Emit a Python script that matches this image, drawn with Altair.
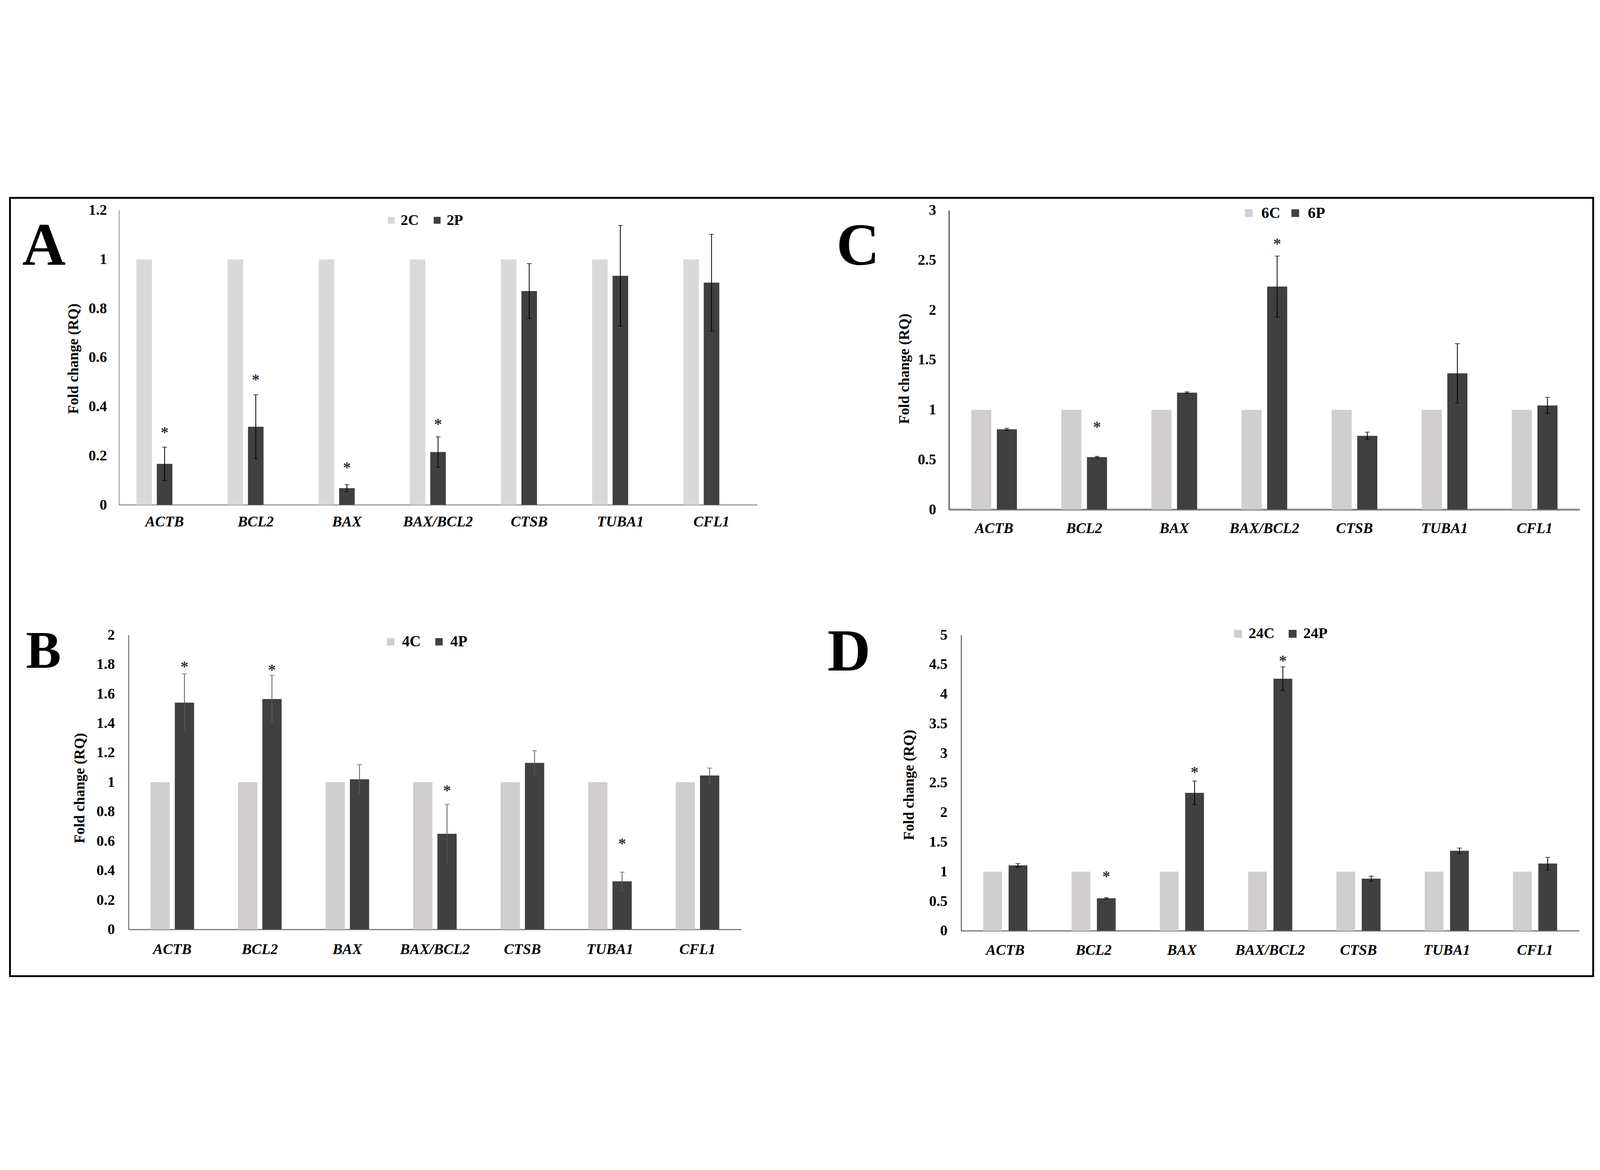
import altair as alt
import pandas as pd

genes = ["ACTB", "BCL2", "BAX", "BAX/BCL2", "CTSB", "TUBA1", "CFL1"]

# Panel A
a_series = ["2C", "2P"]
a_control = [1, 1, 1, 1, 1, 1, 1]
a_treated = [0.167, 0.318, 0.068, 0.215, 0.871, 0.933, 0.905]
a_error = [0.068, 0.130, 0.014, 0.062, 0.112, 0.205, 0.197]
a_star_genes = ["ACTB", "BCL2", "BAX", "BAX/BCL2"]
a_star_y = [0.305, 0.52, 0.161, 0.339]
a_ticks = [0, 0.2, 0.4, 0.6, 0.8, 1, 1.2]

# Panel C
c_series = ["6C", "6P"]
c_control = [1, 1, 1, 1, 1, 1, 1]
c_treated = [0.805, 0.526, 1.172, 2.236, 0.739, 1.366, 1.044]
c_error = [0.010, 0.007, 0.008, 0.305, 0.037, 0.297, 0.080]
c_star_genes = ["BCL2", "BAX/BCL2"]
c_star_y = [0.852, 2.69]
c_ticks = [0, 0.5, 1, 1.5, 2, 2.5, 3]

# Panel B
b_series = ["4C", "4P"]
b_control = [1, 1, 1, 1, 1, 1, 1]
b_treated = [1.540, 1.565, 1.020, 0.650, 1.131, 0.327, 1.046]
b_error = [0.195, 0.161, 0.099, 0.200, 0.083, 0.062, 0.050]
b_star_genes = ["ACTB", "BCL2", "BAX/BCL2", "TUBA1"]
b_star_y = [1.80, 1.78, 0.96, 0.60]
b_ticks = [0, 0.2, 0.4, 0.6, 0.8, 1, 1.2, 1.4, 1.6, 1.8, 2]

# Panel D
d_series = ["24C", "24P"]
d_control = [1, 1, 1, 1, 1, 1, 1]
d_treated = [1.106, 0.549, 2.332, 4.260, 0.881, 1.353, 1.136]
d_error = [0.030, 0.013, 0.200, 0.200, 0.043, 0.045, 0.105]
d_star_genes = ["BCL2", "BAX", "BAX/BCL2"]
d_star_y = [0.957, 2.72, 4.60]
d_ticks = [0, 0.5, 1, 1.5, 2, 2.5, 3, 3.5, 4, 4.5, 5]

SERIF = "Liberation Serif"
DARK = "#404040"
one_row = pd.DataFrame({"k": [0]})


def make_panel(letter, series, control, treated, error, star_genes, star_y, ticks,
               ctrl_color, plot_w, height, shift, x_pi, xo_domain, xo_pi,
               leg_x, leg_y, sym, leg_font, leg_off, leg_gap,
               title_x, title_y, let_x, let_y, let_size, xlab_pad, ylab_pad,
               y_dom_w, y_dom_c, x_dom_w, err_color, border=None):
    df = pd.DataFrame({
        "gene": genes * 2,
        "series": [series[0]] * len(genes) + [series[1]] * len(genes),
        "value": control + treated,
    })
    dfp = pd.DataFrame({
        "gene": genes,
        "series": [series[1]] * len(genes),
        "lo": [v - e for v, e in zip(treated, error)],
        "hi": [v + e for v, e in zip(treated, error)],
    })
    dfs = pd.DataFrame({
        "gene": star_genes,
        "series": [series[1]] * len(star_genes),
        "sy": star_y,
    })

    x = alt.X("gene:N", sort=genes,
              scale=alt.Scale(paddingInner=x_pi, paddingOuter=x_pi / 2,
                              range=[shift, shift + plot_w]),
              axis=alt.Axis(title=None, labelAngle=0, labelFont=SERIF, labelFontSize=56,
                            labelFontWeight="bold", labelFontStyle="italic", labelColor="black",
                            labelPadding=xlab_pad, labelLimit=2000, ticks=False, tickSize=0,
                            domainColor="#858585", domainWidth=x_dom_w, grid=False))
    xo = alt.XOffset("series:N", scale=alt.Scale(domain=xo_domain, paddingInner=xo_pi, paddingOuter=0))
    ysc = alt.Scale(domain=[0, ticks[-1]], nice=False)
    yax = alt.Axis(values=ticks, format="~g", labelFont=SERIF, labelFontSize=56,
                   labelFontWeight="bold", labelColor="black", labelPadding=ylab_pad,
                   ticks=False, tickSize=0, grid=False, domainColor=y_dom_c,
                   domainWidth=y_dom_w, offset=-shift, title="Fold change (RQ)", titleFont=SERIF,
                   titleFontSize=55, titleFontWeight="bold", titleColor="black",
                   titleAngle=270, titleX=title_x, titleY=title_y,
                   titleAlign="center", titleBaseline="middle")

    bars = alt.Chart(df).mark_bar().encode(
        x=x, xOffset=xo,
        y=alt.Y("value:Q", scale=ysc, axis=yax),
        color=alt.Color("series:N",
                        scale=alt.Scale(domain=series, range=[ctrl_color, DARK]),
                        legend=alt.Legend(title=None, orient="none", legendX=leg_x, legendY=leg_y,
                                          direction="horizontal", symbolType="square",
                                          symbolSize=sym * sym, symbolStrokeWidth=0,
                                          labelFont=SERIF, labelFontSize=leg_font,
                                          labelFontWeight="bold", labelColor="black",
                                          labelOffset=leg_off, columnPadding=leg_gap,
                                          padding=0, rowPadding=0)),
    )
    rules = alt.Chart(dfp).mark_rule(color=err_color, strokeWidth=3).encode(
        x=x, xOffset=xo, y=alt.Y("lo:Q", scale=ysc, axis=yax), y2="hi:Q")
    cap_hi = alt.Chart(dfp).mark_tick(color=err_color, thickness=3, size=18).encode(
        x=x, xOffset=xo, y=alt.Y("hi:Q", scale=ysc, axis=yax))
    cap_lo = alt.Chart(dfp).mark_tick(color=err_color, thickness=3, size=18).encode(
        x=x, xOffset=xo, y=alt.Y("lo:Q", scale=ysc, axis=yax))
    stars = alt.Chart(dfs).mark_text(text="*", font=SERIF, fontSize=60, fontWeight="bold",
                                     color="#333333", baseline="middle", dy=10).encode(
        x=x, xOffset=xo, y=alt.Y("sy:Q", scale=ysc, axis=yax))
    letter_mark = alt.Chart(one_row).mark_text(text=letter, font=SERIF, fontSize=let_size,
                                               fontWeight="bold", color="black",
                                               align="center", baseline="alphabetic").encode(
        x=alt.value(let_x), y=alt.value(let_y))
    layers = [bars, rules, cap_hi, cap_lo, stars, letter_mark]
    if border is not None:
        bx, bx2, by, by2 = border
        frame = alt.Chart(one_row).mark_rect(fillOpacity=0, stroke="black", strokeWidth=7).encode(
            x=alt.value(bx), x2=alt.value(bx2), y=alt.value(by), y2=alt.value(by2))
        layers.append(frame)
    return alt.layer(*layers).properties(width=shift + plot_w, height=height)


# cell origins: column 1 at page x 446, column 2 at 3590; row 1 at y 76, row 2 at 1685
pa = make_panel("A", a_series, a_control, a_treated, a_error, a_star_genes, a_star_y, a_ticks,
                "#d9d9d9", 2417, 1116, 0, 0.38, ["2C", "2P", "2X"], 0.239,
                1003, 10, 26, 56, 8, 41,
                -173, 562, -284, 206, 228, 37, 46, 3, "#8c8c8c", 4, "black",
                border=(-413, 5584, -47, 2902))
pc = make_panel("C", c_series, c_control, c_treated, c_error, c_star_genes, c_star_y, c_ticks,
                "#d0cece", 2389, 1134, 0, 0.493, c_series, 0.216,
                1106, -19, 29, 59, 18, 26,
                -169, 600, -345, 206, 226, 45, 49, 5, "#5f5f5f", 7, "black")
pb = make_panel("B", b_series, b_control, b_treated, b_error, b_star_genes, b_star_y, b_ticks,
                "#d0cece", 2321, 1116, 36, 0.5024, b_series, 0.2065,
                1000, -3, 28, 58, 14, 40,
                -185, 580, -286, 125, 200, 48, 52, 4, "#7a7a7a", 5, "#595959")
pd_ = make_panel("D", d_series, d_control, d_treated, d_error, d_star_genes, d_star_y, d_ticks,
                 "#d0cece", 2341, 1121, 46, 0.50, d_series, 0.26,
                 1066, -33, 30, 57, 12, 39,
                 -197, 568, -379, 135, 226, 46, 52, 3, "#3a3a3a", 5, "black")

chart = alt.concat(pa, pc, pb, pd_, columns=2, spacing={"row": 475, "column": 727},
                   bounds="flush").resolve_scale(
    color="independent", xOffset="independent", x="independent", y="independent"
).resolve_legend(color="independent").properties(
    padding={"left": 22, "top": 18, "right": 10, "bottom": 10},
    background="white",
).configure_view(strokeWidth=0)

chart.save("out.html", embed_options={"renderer": "svg", "actions": False})
